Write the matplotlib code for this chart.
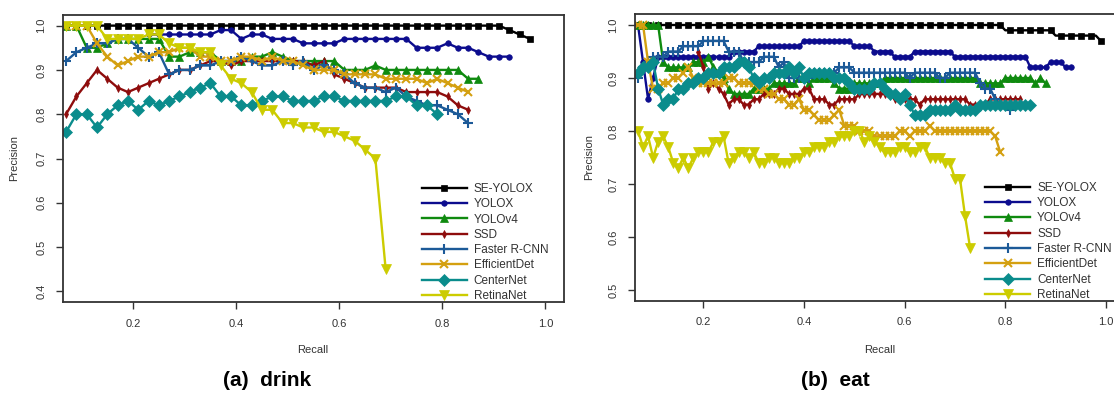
import matplotlib
matplotlib.use("Agg")
import matplotlib.pyplot as plt

plt.rcParams["font.family"] = ["Liberation Sans", "DejaVu Sans"]

models = ["SE-YOLOX", "YOLOX", "YOLOv4", "SSD", "Faster R-CNN",
          "EfficientDet", "CenterNet", "RetinaNet"]

# ---- (a) drink: recall grid and precision per model ----
recall_drink = [0.07, 0.09, 0.11, 0.13, 0.15, 0.17, 0.19, 0.21, 0.23, 0.25,
                0.27, 0.29, 0.31, 0.33, 0.35, 0.37, 0.39, 0.41, 0.43, 0.45,
                0.47, 0.49, 0.51, 0.53, 0.55, 0.57, 0.59, 0.61, 0.63, 0.65,
                0.67, 0.69, 0.71, 0.73, 0.75, 0.77, 0.79, 0.81, 0.83, 0.85,
                0.87, 0.89, 0.91, 0.93, 0.95, 0.97]

se_yolox_drink = [1.00, 1.00, 1.00, 1.00, 1.00, 1.00, 1.00, 1.00, 1.00, 1.00,
                  1.00, 1.00, 1.00, 1.00, 1.00, 1.00, 1.00, 1.00, 1.00, 1.00,
                  1.00, 1.00, 1.00, 1.00, 1.00, 1.00, 1.00, 1.00, 1.00, 1.00,
                  1.00, 1.00, 1.00, 1.00, 1.00, 1.00, 1.00, 1.00, 1.00, 1.00,
                  1.00, 1.00, 1.00, 0.99, 0.98, 0.97]
# starts at recall 0.23 (hidden under the other curves before that)
yolox_drink = [0.98, 0.98,
               0.98, 0.98, 0.98, 0.98, 0.98, 0.99, 0.99, 0.97, 0.98, 0.98,
               0.97, 0.97, 0.97, 0.96, 0.96, 0.96, 0.96, 0.97, 0.97, 0.97,
               0.97, 0.97, 0.97, 0.97, 0.95, 0.95, 0.95, 0.96, 0.95, 0.95,
               0.94, 0.93, 0.93, 0.93]
yolov4_drink = [1.00, 1.00, 0.95, 0.95, 0.96, 0.97, 0.97, 0.97, 0.97, 0.97,
                0.93, 0.93, 0.94, 0.94, 0.94, 0.92, 0.92, 0.92, 0.93, 0.93,
                0.94, 0.93, 0.92, 0.92, 0.92, 0.92, 0.92, 0.90, 0.90, 0.90,
                0.91, 0.90, 0.90, 0.90, 0.90, 0.90, 0.90, 0.90, 0.90, 0.88,
                0.88]
ssd_drink = [0.80, 0.84, 0.87, 0.90, 0.88, 0.86, 0.85, 0.86, 0.87, 0.88,
             0.89, 0.90, 0.90, 0.91, 0.92, 0.92, 0.91, 0.92, 0.92, 0.92,
             0.92, 0.92, 0.92, 0.92, 0.91, 0.92, 0.89, 0.88, 0.87, 0.86,
             0.86, 0.86, 0.86, 0.85, 0.85, 0.85, 0.85, 0.84, 0.82, 0.81]
faster_drink = [0.92, 0.94, 0.95, 0.96, 0.96, 0.97, 0.97, 0.95, 0.93, 0.94,
                0.89, 0.90, 0.90, 0.91, 0.91, 0.92, 0.92, 0.93, 0.92, 0.91,
                0.91, 0.92, 0.91, 0.92, 0.90, 0.91, 0.90, 0.89, 0.87, 0.86,
                0.86, 0.85, 0.86, 0.84, 0.83, 0.82, 0.82, 0.81, 0.80, 0.78]
effdet_drink = [1.00, 1.00, 1.00, 0.96, 0.93, 0.91, 0.92, 0.93, 0.93, 0.94,
                0.94, 0.95, 0.95, 0.93, 0.93, 0.92, 0.92, 0.93, 0.93, 0.92,
                0.93, 0.92, 0.92, 0.91, 0.90, 0.90, 0.90, 0.89, 0.89, 0.89,
                0.89, 0.88, 0.88, 0.88, 0.88, 0.87, 0.88, 0.87, 0.86, 0.85]
centernet_drink = [0.76, 0.80, 0.80, 0.77, 0.80, 0.82, 0.83, 0.81, 0.83, 0.82,
                   0.83, 0.84, 0.85, 0.86, 0.87, 0.84, 0.84, 0.82, 0.82, 0.83,
                   0.84, 0.84, 0.83, 0.83, 0.83, 0.84, 0.84, 0.83, 0.83, 0.83,
                   0.83, 0.83, 0.84, 0.84, 0.82, 0.82, 0.80]
retina_drink = [1.00, 1.00, 1.00, 1.00, 0.97, 0.97, 0.97, 0.97, 0.98, 0.98,
                0.96, 0.95, 0.95, 0.94, 0.94, 0.91, 0.88, 0.87, 0.85, 0.81,
                0.81, 0.78, 0.78, 0.77, 0.77, 0.76, 0.76, 0.75, 0.74, 0.72,
                0.70, 0.45]

# ---- (b) eat ----
recall_eat = [0.07, 0.08, 0.09, 0.10, 0.11, 0.12, 0.13, 0.14, 0.15, 0.16,
              0.17, 0.18, 0.19, 0.20, 0.21, 0.22, 0.23, 0.24, 0.25, 0.26,
              0.27, 0.28, 0.29, 0.30, 0.31, 0.32, 0.33, 0.34, 0.35, 0.36,
              0.37, 0.38, 0.39, 0.40, 0.41, 0.42, 0.43, 0.44, 0.45, 0.46,
              0.47, 0.48, 0.49, 0.50, 0.51, 0.52, 0.53, 0.54, 0.55, 0.56,
              0.57, 0.58, 0.59, 0.60, 0.61, 0.62, 0.63, 0.64, 0.65, 0.66,
              0.67, 0.68, 0.69, 0.70, 0.71, 0.72, 0.73, 0.74, 0.75, 0.76,
              0.77, 0.78, 0.79, 0.80, 0.81, 0.82, 0.83, 0.84, 0.85, 0.86,
              0.87, 0.88, 0.89, 0.90, 0.91, 0.92, 0.93, 0.94, 0.95, 0.96,
              0.97, 0.98, 0.99]

se_yolox_eat = [1.00, 1.00, 1.00, 1.00, 1.00, 1.00, 1.00, 1.00, 1.00, 1.00,
                1.00, 1.00, 1.00, 1.00, 1.00, 1.00, 1.00, 1.00, 1.00, 1.00,
                1.00, 1.00, 1.00, 1.00, 1.00, 1.00, 1.00, 1.00, 1.00, 1.00,
                1.00, 1.00, 1.00, 1.00, 1.00, 1.00, 1.00, 1.00, 1.00, 1.00,
                1.00, 1.00, 1.00, 1.00, 1.00, 1.00, 1.00, 1.00, 1.00, 1.00,
                1.00, 1.00, 1.00, 1.00, 1.00, 1.00, 1.00, 1.00, 1.00, 1.00,
                1.00, 1.00, 1.00, 1.00, 1.00, 1.00, 1.00, 1.00, 1.00, 1.00,
                1.00, 1.00, 1.00, 0.99, 0.99, 0.99, 0.99, 0.99, 0.99, 0.99,
                0.99, 0.99, 0.99, 0.98, 0.98, 0.98, 0.98, 0.98, 0.98, 0.98,
                0.98, 0.98, 0.97]
yolox_eat = [1.00, 0.93, 0.86, 0.90, 0.94, 0.94, 0.94, 0.94, 0.94, 0.94,
             0.94, 0.94, 0.94, 0.94, 0.94, 0.94, 0.94, 0.94, 0.94, 0.95,
             0.95, 0.95, 0.95, 0.95, 0.96, 0.96, 0.96, 0.96, 0.96, 0.96,
             0.96, 0.96, 0.96, 0.97, 0.97, 0.97, 0.97, 0.97, 0.97, 0.97,
             0.97, 0.97, 0.97, 0.96, 0.96, 0.96, 0.96, 0.95, 0.95, 0.95,
             0.95, 0.94, 0.94, 0.94, 0.94, 0.95, 0.95, 0.95, 0.95, 0.95,
             0.95, 0.95, 0.95, 0.94, 0.94, 0.94, 0.94, 0.94, 0.94, 0.94,
             0.94, 0.94, 0.94, 0.94, 0.94, 0.94, 0.94, 0.94, 0.92, 0.92,
             0.92, 0.92, 0.93, 0.93, 0.93, 0.92, 0.92]
yolov4_eat = [1.00, 1.00, 1.00, 1.00, 1.00, 0.93, 0.92, 0.92, 0.92, 0.92,
              0.92, 0.93, 0.93, 0.93, 0.94, 0.92, 0.91, 0.90, 0.88, 0.87,
              0.87, 0.87, 0.87, 0.88, 0.88, 0.88, 0.88, 0.89, 0.89, 0.89,
              0.89, 0.89, 0.90, 0.90, 0.89, 0.90, 0.90, 0.90, 0.90, 0.89,
              0.88, 0.88, 0.88, 0.89, 0.89, 0.89, 0.89, 0.89, 0.89, 0.90,
              0.90, 0.90, 0.90, 0.90, 0.90, 0.90, 0.90, 0.90, 0.90, 0.90,
              0.90, 0.90, 0.90, 0.90, 0.90, 0.90, 0.90, 0.90, 0.89, 0.89,
              0.89, 0.89, 0.89, 0.90, 0.90, 0.90, 0.90, 0.90, 0.90, 0.89,
              0.90, 0.89]
ssd_eat = [0.95, 0.92, 0.88, 0.89, 0.88, 0.87, 0.85, 0.86, 0.86, 0.85,
           0.85, 0.86, 0.86, 0.87, 0.87, 0.87, 0.88, 0.88, 0.87, 0.87,
           0.87, 0.88, 0.88, 0.86, 0.86, 0.86, 0.85, 0.85, 0.86, 0.86,
           0.86, 0.86, 0.87, 0.87, 0.87, 0.87, 0.87, 0.87, 0.87, 0.86,
           0.86, 0.86, 0.86, 0.86, 0.85, 0.86, 0.86, 0.86, 0.86, 0.86,
           0.86, 0.86, 0.86, 0.86, 0.85, 0.85, 0.85, 0.85, 0.86, 0.86,
           0.86, 0.86, 0.86, 0.86, 0.86]
faster_eat = [0.90, 0.92, 0.93, 0.94, 0.94, 0.94, 0.95, 0.95, 0.95, 0.96,
              0.96, 0.96, 0.96, 0.97, 0.97, 0.97, 0.97, 0.97, 0.95, 0.95,
              0.95, 0.93, 0.93, 0.93, 0.93, 0.94, 0.94, 0.94, 0.92, 0.93,
              0.90, 0.90, 0.90, 0.90, 0.90, 0.91, 0.91, 0.91, 0.91, 0.91,
              0.92, 0.92, 0.92, 0.91, 0.91, 0.91, 0.91, 0.91, 0.91, 0.91,
              0.91, 0.91, 0.91, 0.91, 0.90, 0.91, 0.91, 0.91, 0.91, 0.91,
              0.90, 0.90, 0.91, 0.91, 0.91, 0.91, 0.91, 0.91, 0.89, 0.88,
              0.88, 0.86, 0.85, 0.85, 0.84]
effdet_eat = [1.00, 1.00, 0.93, 0.88, 0.88, 0.89, 0.89, 0.90, 0.90, 0.91,
              0.92, 0.90, 0.89, 0.89, 0.89, 0.89, 0.89, 0.89, 0.90, 0.90,
              0.89, 0.89, 0.89, 0.89, 0.88, 0.88, 0.87, 0.87, 0.86, 0.86,
              0.85, 0.85, 0.86, 0.84, 0.84, 0.83, 0.82, 0.82, 0.82, 0.83,
              0.84, 0.81, 0.81, 0.81, 0.80, 0.80, 0.80, 0.79, 0.79, 0.79,
              0.79, 0.79, 0.80, 0.80, 0.79, 0.80, 0.80, 0.80, 0.81, 0.80,
              0.80, 0.80, 0.80, 0.80, 0.80, 0.80, 0.80, 0.80, 0.80, 0.80,
              0.80, 0.79, 0.76]
centernet_eat = [0.91, 0.92, 0.92, 0.93, 0.88, 0.85, 0.86, 0.86, 0.88, 0.88,
                 0.89, 0.89, 0.90, 0.90, 0.91, 0.91, 0.91, 0.92, 0.92, 0.92,
                 0.93, 0.93, 0.92, 0.90, 0.89, 0.90, 0.90, 0.91, 0.91, 0.91,
                 0.92, 0.91, 0.92, 0.90, 0.91, 0.91, 0.91, 0.91, 0.91, 0.90,
                 0.90, 0.90, 0.89, 0.88, 0.88, 0.88, 0.88, 0.89, 0.89, 0.88,
                 0.87, 0.87, 0.86, 0.87, 0.85, 0.83, 0.83, 0.83, 0.84, 0.84,
                 0.84, 0.84, 0.84, 0.85, 0.84, 0.84, 0.84, 0.84, 0.85, 0.85,
                 0.85, 0.85, 0.85, 0.85, 0.85, 0.85, 0.85, 0.85, 0.85]
retina_eat = [0.80, 0.77, 0.79, 0.75, 0.78, 0.79, 0.77, 0.74, 0.73, 0.75,
              0.73, 0.75, 0.76, 0.76, 0.76, 0.78, 0.78, 0.79, 0.74, 0.75,
              0.76, 0.76, 0.75, 0.76, 0.74, 0.74, 0.75, 0.75, 0.74, 0.74,
              0.74, 0.75, 0.75, 0.76, 0.76, 0.77, 0.77, 0.77, 0.78, 0.78,
              0.79, 0.79, 0.79, 0.80, 0.80, 0.78, 0.79, 0.78, 0.77, 0.76,
              0.76, 0.76, 0.77, 0.77, 0.76, 0.76, 0.77, 0.77, 0.75, 0.75,
              0.75, 0.74, 0.74, 0.71, 0.71, 0.64, 0.58]

# first recall value of each curve (some only show up further right)
start_drink = [0.07, 0.23, 0.07, 0.07, 0.07, 0.07, 0.07, 0.07]
start_eat = [0.07, 0.07, 0.07, 0.19, 0.07, 0.07, 0.07, 0.07]

drink = [se_yolox_drink, yolox_drink, yolov4_drink, ssd_drink,
         faster_drink, effdet_drink, centernet_drink, retina_drink]
eat = [se_yolox_eat, yolox_eat, yolov4_eat, ssd_eat,
       faster_eat, effdet_eat, centernet_eat, retina_eat]

colors = ["#000000", "#0c0c8e", "#0f8a0f", "#8e0c0c",
          "#1c5a98", "#d4a010", "#0a8c8c", "#cccc00"]
markers = ["s", "o", "^", "d", "+", "x", "D", "v"]
msizes = [4.5, 4.0, 5.5, 4.2, 7.0, 5.5, 5.8, 7.0]

TICK_C = "#333333"


def draw_panel(ax, recall, curves, starts, ylim, yticks, every):
    for i, prec in enumerate(curves):
        s = recall.index(starts[i])
        ax.plot(recall[s:s + len(prec)], prec, color=colors[i],
                marker=markers[i], markersize=msizes[i], linewidth=1.7,
                markeredgewidth=1.5 if markers[i] in "+x" else 0.5,
                markevery=every[i], label=models[i])
    ax.set_xlim(0.064, 1.036)
    ax.set_ylim(*ylim)
    ax.set_xticks([0.2, 0.4, 0.6, 0.8, 1.0])
    ax.set_yticks(yticks)
    ax.set_xticklabels(["0.2", "0.4", "0.6", "0.8", "1.0"])
    ax.set_yticklabels([f"{t:.1f}" for t in yticks], rotation=90, va="center")
    ax.tick_params(direction="out", length=5, width=1, color=TICK_C,
                   labelcolor=TICK_C, labelsize=8, pad=7)
    for sp in ax.spines.values():
        sp.set_color(TICK_C)
        sp.set_linewidth(1.3)
    ax.legend(loc="upper left", bbox_to_anchor=(0.716, 0.415), frameon=False,
              fontsize=8.5, handlelength=3.8, handletextpad=0.6,
              labelspacing=0.28, borderpad=0, borderaxespad=0, numpoints=1,
              labelcolor=TICK_C)


fig = plt.figure(figsize=(11.14, 3.94), dpi=100)
W, H = 1114.0, 394.0

ax1 = fig.add_axes([63 / W, (H - 302) / H, 501 / W, 287 / H])
draw_panel(ax1, recall_drink, drink, start_drink, (0.376, 1.024),
           [0.4, 0.5, 0.6, 0.7, 0.8, 0.9, 1.0], [1] * 8)

ax2 = fig.add_axes([635 / W, (H - 300.6) / H, 489 / W, 286.2 / H])
draw_panel(ax2, recall_eat, eat, start_eat, (0.48, 1.02),
           [0.5, 0.6, 0.7, 0.8, 0.9, 1.0], [2, 1, 1, 1, 1, 1, 1, 1])

for x, y in [(14, 158), (589, 157)]:
    fig.text(x / W, 1 - y / H, "Precision", rotation=90, ha="center",
             va="center", fontsize=8, color=TICK_C)
for x in [313, 880]:
    fig.text(x / W, 1 - 350 / H, "Recall", ha="center", va="center",
             fontsize=8, color=TICK_C)

fig.text(267 / W, 1 - 380 / H, "(a)  drink", ha="center", va="center",
         fontsize=15, fontweight="bold")
fig.text(835 / W, 1 - 380 / H, "(b)  eat", ha="center", va="center",
         fontsize=15, fontweight="bold")

fig.savefig("out.png", dpi=100)
